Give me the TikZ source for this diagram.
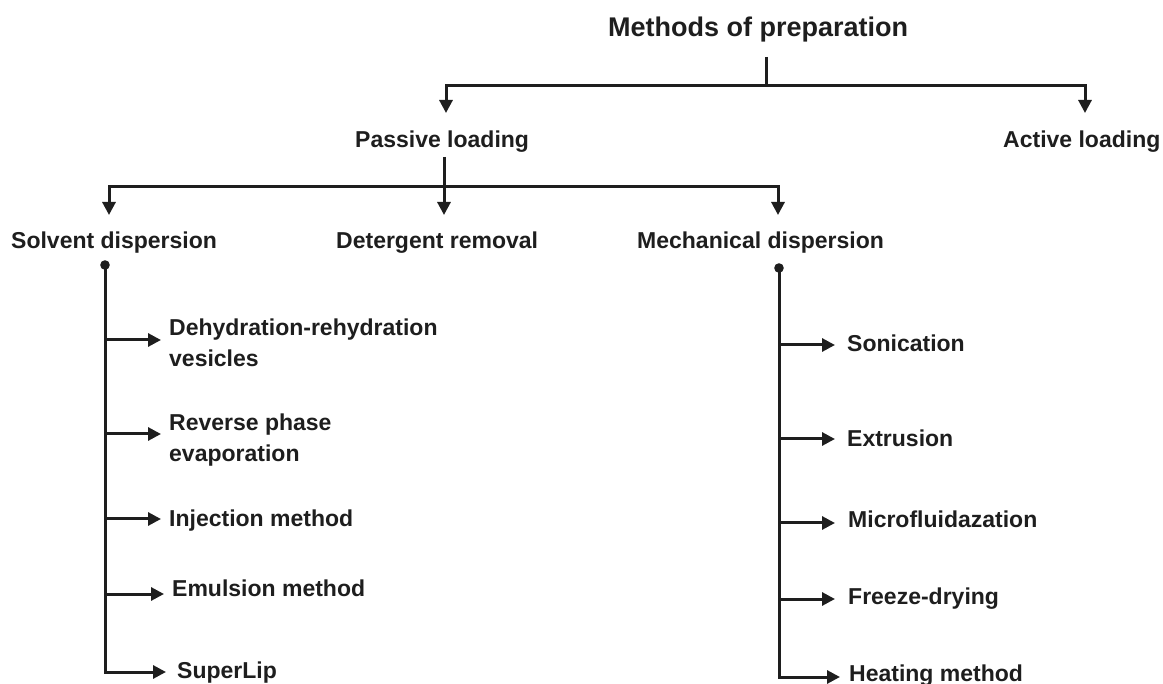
\documentclass[tikz,border=0pt]{standalone}
\usepackage{fontspec}
\setmainfont{Liberation Sans}
\usetikzlibrary{arrows.meta}
\definecolor{ink}{HTML}{1E1E1E}
\begin{document}
\begin{tikzpicture}[x=1pt,y=-1pt,
  lbl/.style={font=\bfseries\fontsize{23}{31}\selectfont, text=ink, inner sep=0pt, anchor=base west, align=left},
  ttl/.style={lbl, font=\bfseries\fontsize{27}{32}\selectfont},
  conn/.style={draw=ink, line width=3pt},
  arr/.style={conn, -{Triangle[length=13pt,width=13pt]}},
  dot/.style={fill=ink}]
\fill[white] (0,0) rectangle (1163,684);
\useasboundingbox (0,0) rectangle (1163,684);
% nodes
\node[ttl] (title) at (608,37) {Methods of preparation};
\node[lbl] (passive) at (355,148) {Passive loading};
\node[lbl] (active) at (1003,148) {Active loading};
\node[lbl] (solvent) at (11,249) {Solvent dispersion};
\node[lbl] (detergent) at (336,249) {Detergent removal};
\node[lbl] (mech) at (637,249) {Mechanical dispersion};
\node[lbl] (l1) at (169,367) {Dehydration-rehydration\\vesicles};
\node[lbl] (l2) at (169,462) {Reverse phase\\evaporation};
\node[lbl] (l3) at (169,527) {Injection method};
\node[lbl] (l4) at (172,596) {Emulsion method};
\node[lbl] (l5) at (177,678) {SuperLip};
\node[lbl] (r1) at (847,352) {Sonication};
\node[lbl] (r2) at (847,447) {Extrusion};
\node[lbl] (r3) at (848,528) {Microfluidazation};
\node[lbl] (r4) at (848,605) {Freeze-drying};
\node[lbl] (r5) at (849,681) {Heating method};
% coordinates
\coordinate (t0) at (766,57);
\coordinate (tj) at (766,86);
\coordinate (pa) at (446,113);
\coordinate (aa) at (1085,113);
\coordinate (p0) at (444,157);
\coordinate (pj) at (444,187);
\coordinate (sa) at (109,215);
\coordinate (da) at (444,215);
\coordinate (ma) at (778,215);
\coordinate (sd) at (105,265);
\coordinate (md) at (779,268);
\coordinate (a1) at (161,340);
\coordinate (a2) at (161,434);
\coordinate (a3) at (161,519);
\coordinate (a4) at (164,594);
\coordinate (a5) at (166,672);
\coordinate (b1) at (835,345);
\coordinate (b2) at (835,439);
\coordinate (b3) at (835,523);
\coordinate (b4) at (835,599);
\coordinate (b5) at (840,677);
% connectors
\draw[conn] (t0) -- (tj);
\draw[arr] (tj) -| (pa);
\draw[arr] (tj) -| (aa);
\draw[conn] (p0) -- (pj);
\draw[arr] (pj) -| (sa);
\draw[arr] (pj) -- (da);
\draw[arr] (pj) -| (ma);
\fill[dot] (sd) circle (4.8);
\fill[dot] (md) circle (4.8);
\draw[arr] (sd) |- (a5);
\draw[arr] (sd |- a1) -- (a1);
\draw[arr] (sd |- a2) -- (a2);
\draw[arr] (sd |- a3) -- (a3);
\draw[arr] (sd |- a4) -- (a4);
\draw[arr] (md) |- (b5);
\draw[arr] (md |- b1) -- (b1);
\draw[arr] (md |- b2) -- (b2);
\draw[arr] (md |- b3) -- (b3);
\draw[arr] (md |- b4) -- (b4);
\end{tikzpicture}
\end{document}
